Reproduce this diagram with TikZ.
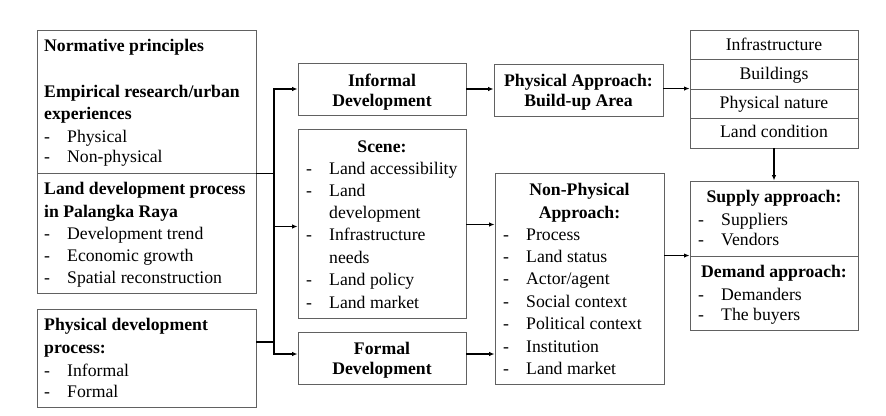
\documentclass[tikz,border=0pt]{standalone}
\usepackage{fontspec}
\setmainfont{Liberation Serif}
\usetikzlibrary{arrows.meta,fit}
\tikzset{
  box/.style={draw=black!62,line width=0.9pt,inner sep=0pt,fill=none},
  txt/.style={inner sep=0pt,font=\fontsize{17.7}{21}\selectfont},
  btxt/.style={inner sep=0pt,font=\fontsize{17.7}{21}\selectfont\bfseries},
  conn/.style={draw=black,line width=1.5pt},
  arr/.style={conn,-{Latex[length=5.5pt,width=4.5pt]}}
}
\newcommand\bx[5]{\node[box,fit={(#2,#3)(#4,#5)}] (#1) {};}
\newcommand\tl[4]{\node[txt,anchor=base west] (#1) at (#2,#3) {#4};}
\newcommand\hl[4]{\node[btxt,anchor=base west] (#1) at (#2,#3) {#4};}
\newcommand\hc[4]{\node[btxt,anchor=base] (#1) at (#2,#3) {#4};}
\newcommand\tc[4]{\node[txt,anchor=base] (#1) at (#2,#3) {#4};}
\newcommand\itm[4]{\node[txt,anchor=base west] (#1d) at (#2,#3) {-};\node[txt,anchor=base west] (#1) at (#2+23,#3) {#4};}
\begin{document}
\begin{tikzpicture}[x=1pt,y=-1pt]
\useasboundingbox (0,0) rectangle (886,415);
% boxes
\bx{top}{37}{30}{256}{173}
\bx{land}{37}{173}{256}{293}
\bx{physdev}{37}{309}{256}{407}
\bx{informal}{298}{63}{466}{115}
\bx{scene}{298}{129}{466}{318}
\bx{formal}{298}{332}{466}{384}
\bx{physapp}{494}{64}{663}{116}
\bx{np}{495}{173}{664}{384}
\bx{st1}{690}{30}{858}{59}
\bx{st2}{690}{59}{858}{89}
\bx{st3}{690}{89}{858}{118}
\bx{st4}{690}{118}{858}{148}
\bx{supply}{690}{181}{858}{256}
\bx{demand}{690}{256}{858}{330}
% left texts
\hl{t1}{44}{51}{Normative principles}
\hl{t2}{44}{97}{Empirical research/urban}
\hl{t3}{44}{119}{experiences}
\itm{t4}{44}{142}{Physical}
\itm{t5}{44}{162}{Non-physical}
\hl{l1}{44}{194}{Land development process}
\hl{l2}{44}{217}{in Palangka Raya}
\itm{l3}{44}{239}{Development trend}
\itm{l4}{44}{261}{Economic growth}
\itm{l5}{44}{283}{Spatial reconstruction}
\hl{p1}{44}{330}{Physical development}
\hl{p2}{44}{353}{process:}
\itm{p3}{44}{376}{Informal}
\itm{p4}{44}{397}{Formal}
% middle texts
\hc{i1}{382}{86}{Informal}
\hc{i2}{382}{106}{Development}
\hc{s0}{382}{152}{Scene:}
\itm{s1}{306}{174}{Land accessibility}
\itm{s2}{306}{196}{Land}
\tl{s2b}{329}{218}{development}
\itm{s3}{306}{240}{Infrastructure}
\tl{s3b}{329}{263}{needs}
\itm{s4}{306}{285}{Land policy}
\itm{s5}{306}{308}{Land market}
\hc{f1}{382}{354}{Formal}
\hc{f2}{382}{374}{Development}
% approach texts
\hc{a1}{578.5}{86}{Physical Approach:}
\hc{a2}{578.5}{106}{Build-up Area}
\hc{n1}{579.5}{195}{Non-Physical}
\hc{n2}{579.5}{218}{Approach:}
\itm{n3}{503}{240}{Process}
\itm{n4}{503}{262}{Land status}
\itm{n5}{503}{284}{Actor/agent}
\itm{n6}{503}{307}{Social context}
\itm{n7}{503}{329}{Political context}
\itm{n8}{503}{352}{Institution}
\itm{n9}{503}{374}{Land market}
% right texts
\tc{r1}{774}{50}{Infrastructure}
\tc{r2}{774}{79}{Buildings}
\tc{r3}{774}{108}{Physical nature}
\tc{r4}{774}{137}{Land condition}
\hc{u1}{774}{202}{Supply approach:}
\itm{u2}{698}{225}{Suppliers}
\itm{u3}{698}{245}{Vendors}
\hc{d1}{774}{277}{Demand approach:}
\itm{d2}{698}{300}{Demanders}
\itm{d3}{698}{320}{The buyers}
% connectors
\coordinate (trtop) at (274,89);
\coordinate (trbot) at (274,354);
\coordinate (scenein) at ([yshift=-3pt]scene.west);
\coordinate (sceneout) at ([yshift=-1pt]scene.east);
\coordinate (formalin) at ([yshift=4pt]formal.west);
\coordinate (formalout) at ([yshift=4pt]formal.east);
\coordinate (physout) at ([yshift=16pt]physdev.east);
\draw[conn] (top.south east) -- (top.south east -| trtop);
\draw[conn] (physout) -- (physout -| trtop);
\draw[conn,line cap=rect] (trtop) -- (trbot);
\draw[arr] (trtop) -- (trtop -| informal.west);
\draw[arr] (trtop |- scenein) -- (scenein);
\draw[arr] (trbot) -- (formalin);
\draw[arr] (informal.east) -- (informal.east -| physapp.west);
\draw[arr] (physapp.east |- st3.north west) -- (st3.north west);
\draw[arr] (sceneout) -- (sceneout -| np.west);
\draw[arr] (formalout) -- (formalout -| np.west);
\draw[arr] (demand.north west -| np.east) -- (demand.north west);
\draw[arr] (st4.south) -- (supply.north);
\end{tikzpicture}
\end{document}
